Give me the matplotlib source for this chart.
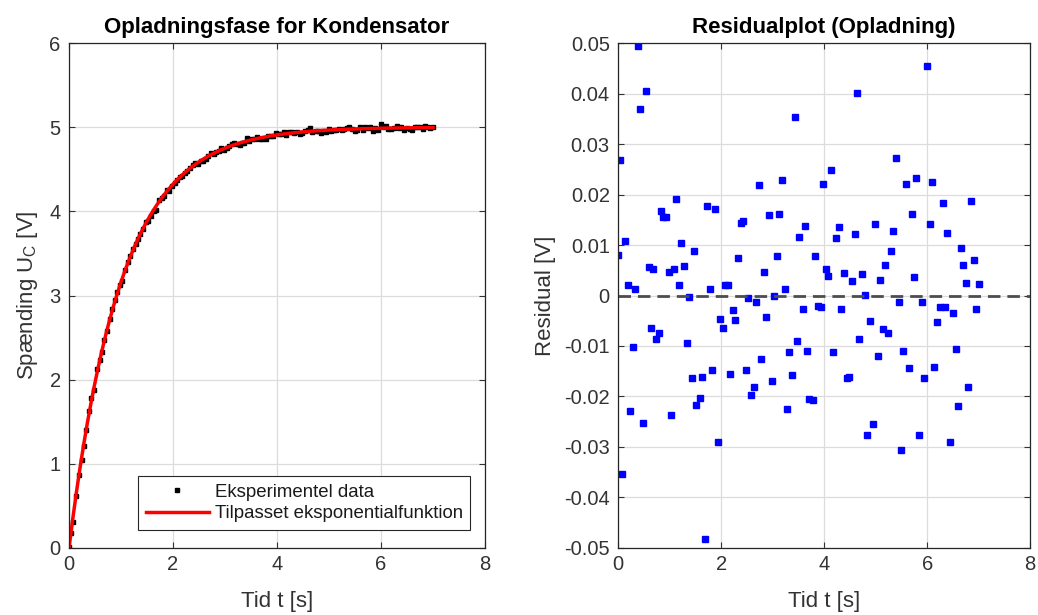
import numpy as np
import matplotlib
matplotlib.use('Agg')
import matplotlib.pyplot as plt

plt.rcParams['font.family'] = ['Liberation Sans', 'DejaVu Sans']
plt.rcParams['mathtext.fontset'] = 'custom'
plt.rcParams['mathtext.rm'] = 'Liberation Sans'
plt.rcParams['mathtext.it'] = 'Liberation Sans'

# Residualer (tid [s], residual [V])
t_data = [
    0.00, 0.03, 0.07, 0.13, 0.19, 0.24, 0.28, 0.33, 0.38, 0.43, 0.48, 0.54,
    0.59, 0.63, 0.68, 0.73, 0.79, 0.83, 0.88, 0.93, 0.98, 1.02, 1.08, 1.13,
    1.18, 1.23, 1.28, 1.33, 1.37, 1.43, 1.48, 1.52, 1.58, 1.63, 1.68, 1.73,
    1.78, 1.83, 1.88, 1.93, 1.98, 2.03, 2.08, 2.13, 2.18, 2.23, 2.27, 2.33,
    2.38, 2.43, 2.48, 2.53, 2.58, 2.63, 2.68, 2.73, 2.78, 2.83, 2.88, 2.93,
    2.98, 3.03, 3.08, 3.13, 3.18, 3.23, 3.28, 3.32, 3.37, 3.43, 3.47, 3.52,
    3.58, 3.62, 3.67, 3.71, 3.78, 3.83, 3.88, 3.93, 3.98, 4.03, 4.08, 4.13,
    4.18, 4.23, 4.28, 4.33, 4.39, 4.44, 4.48, 4.54, 4.59, 4.63, 4.68, 4.74,
    4.79, 4.84, 4.89, 4.94, 4.99, 5.04, 5.09, 5.14, 5.19, 5.24, 5.29, 5.34,
    5.39, 5.45, 5.50, 5.54, 5.59, 5.65, 5.70, 5.75, 5.79, 5.85, 5.89, 5.94,
    6.00, 6.05, 6.10, 6.14, 6.19, 6.25, 6.30, 6.34, 6.39, 6.45, 6.50, 6.55,
    6.60, 6.65, 6.70, 6.75, 6.80, 6.85, 6.90, 6.95, 7.00,
]
residuals = [
    0.0081, 0.0269, -0.0354, 0.0108, 0.0021, -0.0229, -0.0102, 0.0012, 0.0494, 0.0369, -0.0252, 0.0405,
    0.0056, -0.0064, 0.0052, -0.0086, -0.0075, 0.0167, 0.0156, 0.0156, 0.0046, -0.0236, 0.0053, 0.0192,
    0.0021, 0.0104, 0.0059, -0.0094, -0.0003, -0.0164, 0.0088, -0.0216, -0.0203, -0.0162, -0.0482, 0.0178,
    0.0013, -0.0148, 0.0172, -0.0290, -0.0046, -0.0065, 0.0021, 0.0021, -0.0155, -0.0028, -0.0048, 0.0074,
    0.0144, 0.0148, -0.0147, -0.0005, -0.0197, -0.0181, -0.0013, 0.0218, -0.0126, 0.0047, -0.0042, 0.0160,
    -0.0170, 0.0000, 0.0079, 0.0162, 0.0229, 0.0012, -0.0225, -0.0112, -0.0158, 0.0354, -0.0090, 0.0115,
    -0.0026, 0.0137, -0.0110, -0.0205, -0.0207, 0.0079, -0.0020, -0.0022, 0.0221, 0.0052, 0.0039, 0.0248,
    -0.0112, 0.0114, 0.0136, -0.0026, 0.0044, -0.0163, -0.0161, 0.0028, 0.0121, 0.0401, -0.0087, 0.0042,
    0.0001, -0.0277, -0.0051, -0.0255, 0.0141, -0.0119, 0.0030, -0.0067, 0.0061, -0.0075, 0.0089, 0.0127,
    0.0273, -0.0013, -0.0305, -0.0110, 0.0220, -0.0144, 0.0162, 0.0036, 0.0233, -0.0277, -0.0013, -0.0164,
    0.0455, 0.0142, 0.0225, -0.0141, -0.0053, -0.0022, 0.0183, -0.0023, 0.0123, -0.0290, -0.0035, -0.0106,
    -0.0218, 0.0095, 0.0061, 0.0024, -0.0182, 0.0188, 0.0071, -0.0026, 0.0022,
]

# Tilpasset model U(t) = U0 * (1 - exp(-t/tau))
U0 = 5.0
tau = 1.0

t_data = np.array(t_data)
residuals = np.array(residuals)
U_fit_data = U0 * (1 - np.exp(-t_data / tau))
U_data = U_fit_data + residuals

t_fit = np.linspace(0, 7, 300)
U_fit = U0 * (1 - np.exp(-t_fit / tau))

res_ticks = [0.05, 0.04, 0.03, 0.02, 0.01, 0, -0.01, -0.02, -0.03, -0.04, -0.05]
res_labels = ['0.05', '0.04', '0.03', '0.02', '0.01', '0', '-0.01', '-0.02', '-0.03', '-0.04', '-0.05']

TXT = '#333333'

fig = plt.figure(figsize=(10.38, 6.15), dpi=100)
ax1 = fig.add_axes([0.0665, 0.109, 0.4008, 0.821])
ax2 = fig.add_axes([0.5955, 0.109, 0.397, 0.821])

def style_axes(ax):
    ax.grid(True, color='#dcdcdc', linewidth=0.9)
    ax.set_axisbelow(True)
    ax.tick_params(direction='in', top=True, right=True, labelsize=14.5,
                   colors=TXT, length=4, pad=5)
    ax.tick_params(axis='y', pad=6)
    for s in ax.spines.values():
        s.set_color('#262626')
        s.set_linewidth(0.9)

# Venstre: opladning
ax1.plot(t_data, U_data, 's', color='black', markersize=3,
         label='Eksperimentel data')
ax1.plot(t_fit, U_fit, '-', color='red', linewidth=2.5,
         label='Tilpasset eksponentialfunktion')
ax1.set_xlim(0, 8)
ax1.set_ylim(0, 6)
ax1.set_xticks([0, 2, 4, 6, 8])
ax1.set_yticks([0, 1, 2, 3, 4, 5, 6])
style_axes(ax1)
ax1.set_xlabel('Tid t [s]', fontsize=16, color=TXT, labelpad=12)
ax1.set_ylabel('Spænding U$_\\mathrm{C}$ [V]', fontsize=16, color=TXT, labelpad=7)
ax1.set_title('Opladningsfase for Kondensator', fontsize=16, fontweight='bold', pad=7)
leg = ax1.legend(loc='lower right', fontsize=13.4, fancybox=False, edgecolor='#262626',
                 framealpha=1, borderpad=0.4, handlelength=3.4, handletextpad=0.3,
                 labelspacing=0.25, borderaxespad=0,
                 bbox_to_anchor=(0.964, 0.036))
leg.get_frame().set_linewidth(0.8)
for txt in leg.get_texts():
    txt.set_color('#1a1a1a')

# Højre: residualer
ax2.plot(t_data, residuals, 's', color='blue', markersize=5)
ax2.axhline(0, color='#4d4d4d', linestyle='--', linewidth=2, dashes=(4.5, 2.5))
ax2.set_xlim(0, 8)
ax2.set_ylim(-0.05, 0.05)
ax2.set_xticks([0, 2, 4, 6, 8])
ax2.set_yticks(res_ticks)
ax2.set_yticklabels(res_labels)
style_axes(ax2)
ax2.set_xlabel('Tid t [s]', fontsize=16, color=TXT, labelpad=12)
ax2.set_ylabel('Residual [V]', fontsize=16, color=TXT, labelpad=6)
ax2.set_title('Residualplot (Opladning)', fontsize=16, fontweight='bold', pad=7)

fig.savefig('out.png', dpi=100)
